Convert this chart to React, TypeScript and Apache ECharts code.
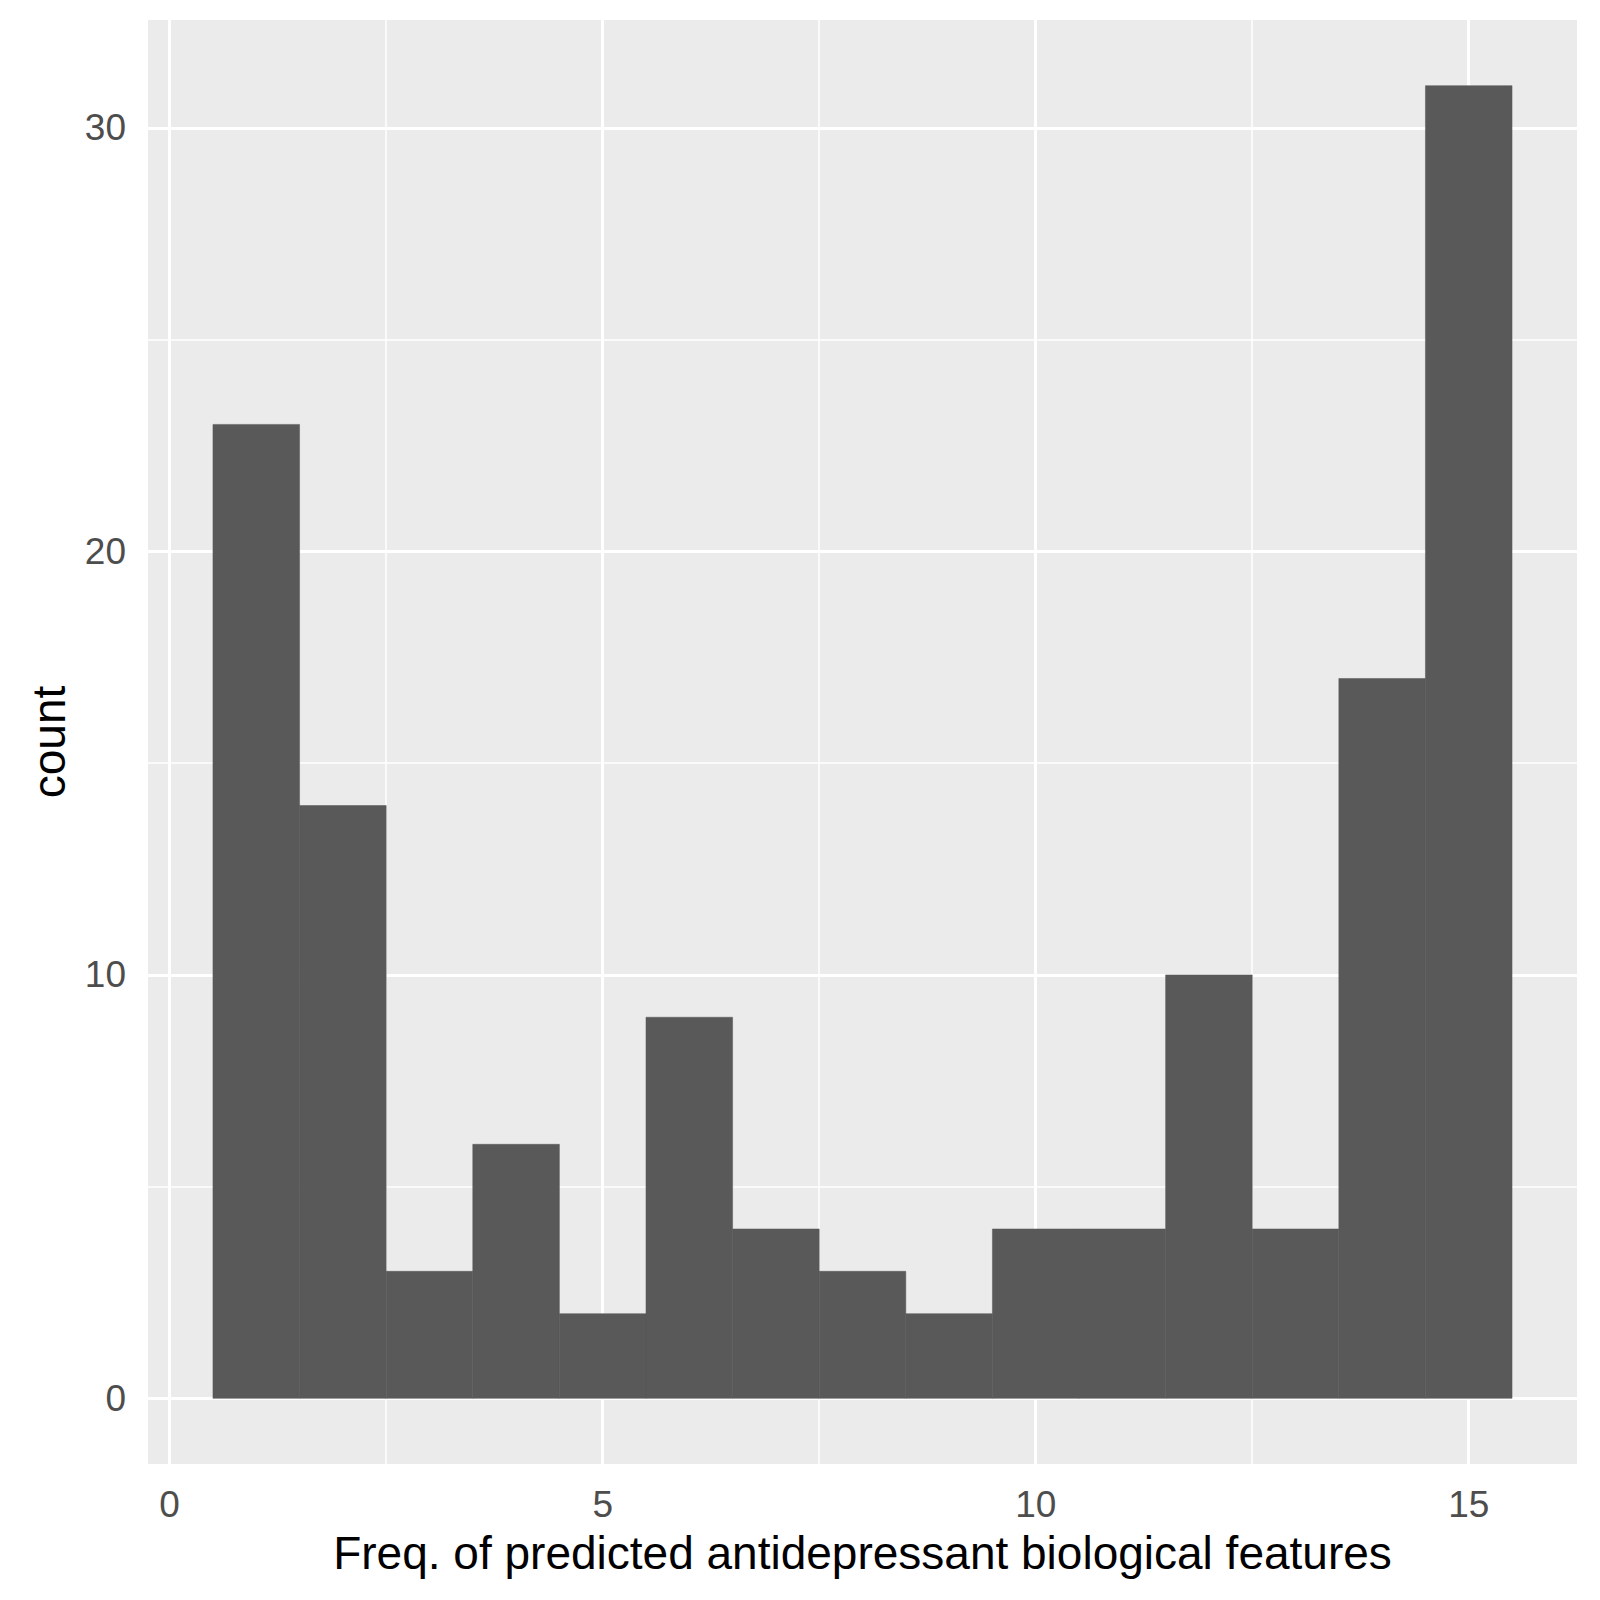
import React, { useEffect, useRef } from 'react';
import * as echarts from 'echarts';

const binCenters = [1, 2, 3, 4, 5, 6, 7, 8, 9, 10, 11, 12, 13, 14, 15];
const counts = [23, 14, 3, 6, 2, 9, 4, 3, 2, 4, 4, 10, 4, 17, 31];
const xTicks = [0, 5, 10, 15];
const xMinor = [2.5, 7.5, 12.5];
const yTicks = [0, 10, 20, 30];
const yMinor = [5, 15, 25];

const App: React.FC = () => {
  const chartRef = useRef<HTMLDivElement>(null);

  useEffect(() => {
    const chart = echarts.init(chartRef.current!, null, { renderer: 'svg' });
    const line = (axis: 'xAxis' | 'yAxis', v: number, w: number) => ({
      [axis]: v,
      lineStyle: { color: '#ffffff', width: w, type: 'solid' },
    });
    const font = 'Arial, Liberation Sans';

    const option = {
      animation: false,
      backgroundColor: '#ffffff',
      grid: { left: 148, top: 20, width: 1429, height: 1444, backgroundColor: '#ebebeb', show: true, borderWidth: 0 },
      xAxis: {
        type: 'value',
        min: -0.25,
        max: 16.25,
        name: 'Freq. of predicted antidepressant biological features',
        nameLocation: 'middle',
        nameGap: 66,
        nameTextStyle: { fontFamily: font, fontSize: 46, color: '#000' },
        axisLine: { show: false },
        splitLine: { show: false },
        axisTick: { show: true, customValues: xTicks, length: 10, lineStyle: { color: '#333', width: 2.5 } },
        axisLabel: { customValues: xTicks, fontFamily: font, fontSize: 37, color: '#4d4d4d', margin: 22 },
      },
      yAxis: {
        type: 'value',
        min: -1.55,
        max: 32.55,
        name: 'count',
        nameLocation: 'middle',
        nameGap: 76,
        nameRotate: 90,
        nameTextStyle: { fontFamily: font, fontSize: 46, color: '#000' },
        axisLine: { show: false },
        splitLine: { show: false },
        axisTick: { show: true, customValues: yTicks, length: 10, lineStyle: { color: '#333', width: 2.5 } },
        axisLabel: { customValues: yTicks, fontFamily: font, fontSize: 37, color: '#4d4d4d', margin: 22 },
      },
      series: [
        {
          type: 'line',
          data: [],
          z: 1,
          markLine: {
            silent: true,
            symbol: 'none',
            label: { show: false },
            data: [
              ...xMinor.map((v) => line('xAxis', v, 1.5)),
              ...yMinor.map((v) => line('yAxis', v, 1.5)),
              ...xTicks.map((v) => line('xAxis', v, 3)),
              ...yTicks.map((v) => line('yAxis', v, 3)),
            ],
          },
        },
        {
          type: 'custom',
          z: 5,
          data: binCenters.map((c, i) => [c, counts[i]]),
          renderItem: (params: any, api: any) => {
            const x = api.value(0);
            const y = api.value(1);
            const p0 = api.coord([x - 0.5, 0]);
            const p1 = api.coord([x + 0.5, y]);
            return {
              type: 'rect',
              shape: { x: p0[0], y: p1[1], width: p1[0] - p0[0], height: p0[1] - p1[1] },
              style: { fill: '#595959', stroke: '#595959', lineWidth: 0.5 },
            };
          },
        },
      ],
    };

    chart.setOption(option);
    return () => {
      chart.dispose();
    };
  }, []);

  return <div ref={chartRef} style={{ position: 'absolute', left: 0, top: 0, width: 1600, height: 1600 }} />;
};

export default App;
